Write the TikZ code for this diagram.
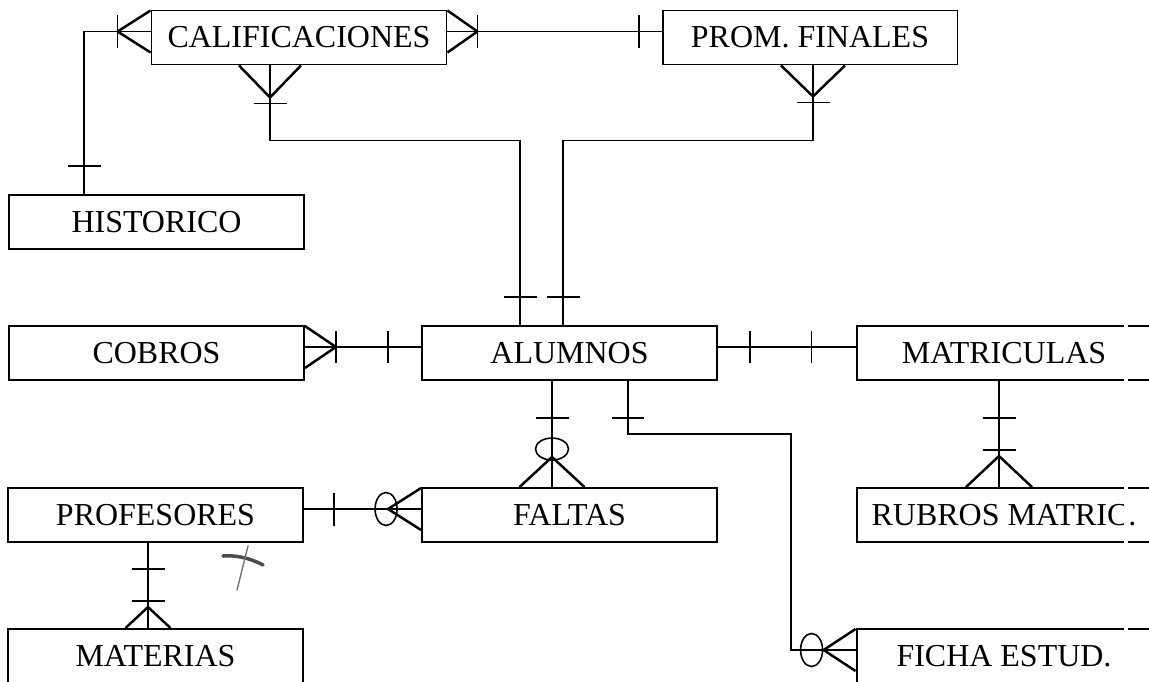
\documentclass[tikz,border=0pt]{standalone}
\usepackage{fontspec}
\setmainfont{Liberation Serif}
\usepackage{tikz}
\usetikzlibrary{calc}
\usetikzlibrary{decorations.markings}
\tikzset{
    entity/.style={draw, line width=1.1pt, minimum width=5.9cm, minimum height=1.08cm, inner sep=0pt, font=\fontsize{18.2}{20}\selectfont},
    rel/.style={line width=0.9pt},
    bar/.style={postaction={decorate,decoration={markings,mark=at position #1 with {\draw[line width=0.9pt] (0,-0.33cm)--(0,0.33cm);}}}},
    ring/.style={postaction={decorate,decoration={markings,mark=at position #1 with {\draw[line width=0.9pt] (0,0) ellipse [x radius=0.22cm, y radius=0.33cm];}}}},
    crowstart/.style 2 args={postaction={decorate,decoration={markings,mark=at position #1 with {\draw[line width=1.4pt] (0,0)--(-#1,#2) (0,0)--(-#1,-#2);}}}},
    crowend/.style 2 args={postaction={decorate,decoration={markings,mark=at position -#1 with {\draw[line width=1.4pt] (0,0)--(#1,#2) (0,0)--(#1,-#2);}}}}
}

\begin{document}
\begin{tikzpicture}[x=0.02cm,y=-0.02cm]
\useasboundingbox (0,0) rectangle (1149,682);
\clip (0,0) rectangle (1149,682);
\foreach \x/\y/\p/\labeltext in {299/37.5/cal/{CALIFICACIONES}, 810/37.5/prom/{PROM. FINALES}, 156.5/222/hist/{HISTORICO}, 156.5/353/cobros/{COBROS}, 569.5/353/alu/{ALUMNOS}, 1004/353/matric/{MATRICULAS}, 155.5/515/prof/{PROFESORES}, 569.5/515/faltas/{FALTAS}, 1004/515/rubros/{RUBROS MATRIC.}, 155.5/656/mat/{MATERIAS}, 1004/656/ficha/{FICHA ESTUD.}}{
    \node[entity] (\p) at (\x,\y) {\labeltext};
}
% calificaciones
\draw[rel, crowstart={0.66cm}{0.42cm}, bar=0.66cm, bar=-0.56cm] ([yshift=.12cm]cal.west) -| ([xshift=1.52cm]hist.north west);
\draw[rel, crowstart={0.6cm}{0.42cm}, bar=0.6cm, bar=-0.45cm] ([yshift=.12cm]cal.east) -- ([yshift=.12cm]prom.west);
\draw[rel, crowstart={0.64cm}{0.62cm}, bar=0.76cm, bar=-0.56cm] ([xshift=-.58cm]cal.south) -- ++(0,75) -| ([xshift=-.99cm]alu.north);
\draw[rel, crowstart={0.62cm}{0.64cm}, bar=0.74cm, bar=-0.56cm] ([xshift=.06cm]prom.south) -- ++(0,75) -| ([xshift=-.13cm]alu.north);
% alumnos
\draw[rel, crowstart={0.62cm}{0.42cm}, bar=0.62cm, bar=-0.66cm] ([yshift=.12cm]cobros.east) -- ([yshift=.12cm]alu.west);
\draw[rel, bar=0.64cm, bar=-0.88cm] ([yshift=.12cm]alu.east) -- ([yshift=.12cm]matric.west);
\draw[rel, bar=0.74cm, bar=-0.74cm, crowend={0.62cm}{0.66cm}] ([xshift=-.1cm]matric.south) -- ([xshift=-.1cm]rubros.north);
\draw[rel, bar=0.74cm, ring=-0.76cm, crowend={0.6cm}{0.65cm}] ([xshift=-.35cm]alu.south) -- ([xshift=-.35cm]faltas.north);
\draw[rel, bar=0.74cm, ring=-0.88cm, crowend={0.64cm}{0.42cm}] ([xshift=1.17cm]alu.south) -- ++(0,53) -- ++(163,0) |- ([yshift=.12cm]ficha.west);
% profesores
\draw[rel, bar=0.6cm, ring=-0.7cm, crowend={0.66cm}{0.42cm}] ([yshift=.12cm]prof.east) -- ([yshift=.12cm]faltas.west);
\draw[rel, bar=0.52cm, bar=-0.54cm, crowend={0.42cm}{0.45cm}] ([xshift=-.15cm]prof.south) -- ([xshift=-.15cm]mat.north);
% pencil mark
\draw[black!70, line width=2pt, line cap=round] (223,556) .. controls (236,555) and (250,558) .. (263,565);
\draw[black!55, line width=0.8pt, line cap=round] (248,546) -- (237,590);
% scan gap
\fill[white] (1123.5,300) rectangle (1128,682);
\end{tikzpicture}
\end{document}
